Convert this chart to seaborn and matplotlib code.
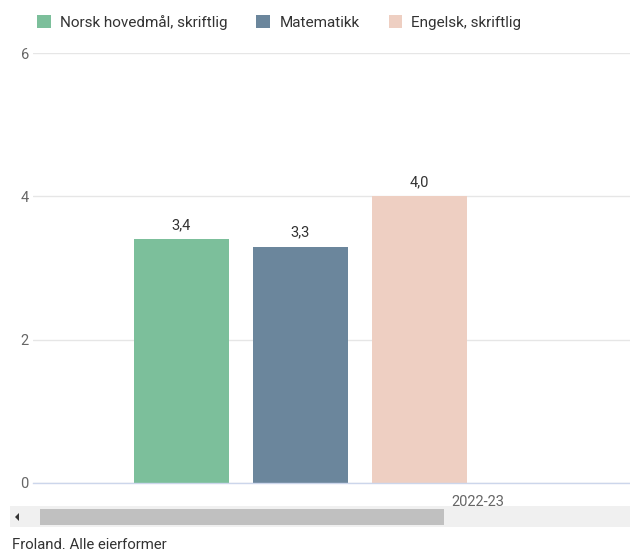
import matplotlib
matplotlib.use("Agg")
import matplotlib.pyplot as plt
import seaborn as sns
import pandas as pd
from matplotlib.patches import Rectangle, Polygon, Patch

years = ["2022-23"]
subjects = ["Norsk hovedmål, skriftlig", "Matematikk", "Engelsk, skriftlig"]
values = [3.4, 3.3, 4.0]
colors = ["#7cbf9b", "#6b869c", "#eecfc2"]
yticks = [0, 2, 4, 6]
footer = "Froland. Alle eierformer"

df = pd.DataFrame({"year": years * len(subjects), "subject": subjects, "value": values})

sns.set_theme(style="white")
plt.rcParams["font.family"] = ["Roboto", "DejaVu Sans"]

fig = plt.figure(figsize=(6.3, 5.51), dpi=100)
ax = fig.add_axes([33 / 630, 68 / 551, 1 - 33 / 630, 430 / 551])

sns.barplot(data=df, x="year", y="value", hue="subject", hue_order=subjects,
            palette=colors, width=0.8, gap=0.2017, saturation=1, ax=ax,
            legend=False, edgecolor="none", linewidth=0)

for cont in ax.containers:
    ax.bar_label(cont, labels=[f"{v:.1f}".replace(".", ",") for v in cont.datavalues],
                 padding=5, fontsize=10.5, color="#333333")

ax.set_ylim(0, 6)
ax.set_yticks(yticks)
ax.set_yticklabels([str(t) for t in yticks], color="#666666", fontsize=10.5)
ax.tick_params(axis="y", length=0, pad=3)
px = 0.8 / 357.0
ax.set_xlim(-(300.5 - 33) * px, (630 - 300.5) * px)
ax.set_xticks([(478 - 300.5) * px])
ax.set_xticklabels(years, color="#666666", fontsize=10.5)
ax.tick_params(axis="x", length=0, pad=9)
ax.set_xlabel("")
ax.set_ylabel("")
ax.yaxis.grid(True, color="#e6e6e6", linewidth=1)
ax.set_axisbelow(True)
for s in ["top", "right", "left"]:
    ax.spines[s].set_visible(False)
ax.spines["bottom"].set_color("#ccd6eb")
ax.spines["bottom"].set_linewidth(1)

# legend
handles = [Patch(facecolor=c, edgecolor="none") for c in colors]
leg = fig.legend(handles, subjects, loc="upper left", bbox_to_anchor=(37 / 630, 1 - 15 / 551),
                 ncol=3, frameon=False, fontsize=11, handlelength=0.9, handleheight=0.9,
                 handletextpad=0.6, columnspacing=1.9, borderpad=0, borderaxespad=0,
                 labelcolor="#333333")

# scrollbar
fig.patches.append(Rectangle((10 / 630, 1 - 527 / 551), 620 / 630, 21 / 551,
                             transform=fig.transFigure, facecolor="#f0f0f0", edgecolor="none"))
fig.patches.append(Rectangle((40 / 630, 1 - 525 / 551), 404 / 630, 16 / 551,
                             transform=fig.transFigure, facecolor="#c0c0c0", edgecolor="none"))
fig.patches.append(Polygon([(19 / 630, 1 - 513 / 551), (19 / 630, 1 - 521 / 551), (15 / 630, 1 - 517 / 551)],
                           closed=True, transform=fig.transFigure, facecolor="#333333", edgecolor="none"))

fig.text(12 / 630, 1 - 545 / 551, footer, fontsize=10.7, color="#333333", va="center", ha="left")

fig.savefig("out.png", dpi=100)
